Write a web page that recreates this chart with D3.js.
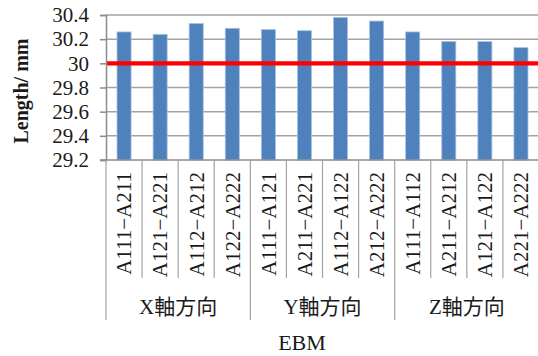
<!DOCTYPE html>
<html>
<head>
<meta charset="utf-8">
<script src="https://cdn.jsdelivr.net/npm/d3@7"></script>
<style>
  body { margin: 0; background: #fff; }
  text { font-family: "Liberation Serif", "Noto Sans CJK JP", serif; fill: #1a1a1a; }
</style>
</head>
<body>
<div id="chart"></div>
<script>
// data
const categories = ["A111−A211", "A121−A221", "A112−A212", "A122−A222",
                    "A111−A121", "A211−A221", "A112−A122", "A212−A222",
                    "A111−A112", "A211−A212", "A121−A122", "A221−A222"];
const groups = ["X軸方向", "Y軸方向", "Z軸方向"];
const groupSize = 4;
const values = [30.26, 30.24, 30.33, 30.29, 30.28, 30.27, 30.38, 30.35, 30.26, 30.18, 30.18, 30.13];
const yTicks = [29.2, 29.4, 29.6, 29.8, 30, 30.2, 30.4];
const refValue = 30;

const W = 538, H = 356;
const plotL = 106, plotR = 539, plotT = 15, plotB = 160;

const svg = d3.select("#chart").append("svg")
    .attr("width", W).attr("height", H);

const x = d3.scaleBand().domain(categories).range([plotL, plotR]);
const xBar = d3.scaleBand().domain(categories).range([plotL, plotR])
    .paddingInner(0.61).paddingOuter(0.305);
const y = d3.scaleLinear().domain([29.2, 30.4]).range([plotB, plotT]);

// gridlines
svg.append("g").selectAll("line").data(yTicks.slice(1)).enter().append("line")
    .attr("x1", plotL).attr("x2", W)
    .attr("y1", d => y(d)).attr("y2", d => y(d))
    .attr("stroke", "#a3a3a3").attr("stroke-width", 1.5);

// bars
svg.append("g").selectAll("rect").data(values).enter().append("rect")
    .attr("x", (d, i) => xBar(categories[i]))
    .attr("width", xBar.bandwidth())
    .attr("y", d => y(d))
    .attr("height", d => y(29.2) - y(d))
    .attr("fill", "#4f81bd")
    .attr("stroke", "#a9c2e2").attr("stroke-width", 0.8);

// reference line at 30
svg.append("line")
    .attr("x1", plotL).attr("x2", W)
    .attr("y1", y(refValue)).attr("y2", y(refValue))
    .attr("stroke", "#ff0000").attr("stroke-width", 4.3);

// y axis
const yAxis = svg.append("g")
    .attr("transform", `translate(${plotL},0)`)
    .call(d3.axisLeft(y).tickValues(yTicks).tickSize(6).tickPadding(11).tickFormat(d => d));
yAxis.select(".domain").attr("stroke", "#8c8c8c").attr("stroke-width", 1.5);
yAxis.selectAll(".tick line").attr("stroke", "#8c8c8c").attr("stroke-width", 1.5);
yAxis.selectAll(".tick text").style("font-size", "21px")
    .style("font-family", "Liberation Serif, serif").attr("fill", "#1a1a1a");

// x axis baseline
svg.append("line")
    .attr("x1", plotL - 6).attr("x2", W)
    .attr("y1", plotB).attr("y2", plotB)
    .attr("stroke", "#8c8c8c").attr("stroke-width", 1.5);

// category separators
const bounds = categories.map((c, i) => i).concat([categories.length]);
svg.append("g").selectAll("line").data(bounds).enter().append("line")
    .attr("x1", i => plotL + i * x.step()).attr("x2", i => plotL + i * x.step())
    .attr("y1", plotB)
    .attr("y2", i => i % groupSize === 0 ? 320 : 278)
    .attr("stroke", "#a3a3a3").attr("stroke-width", 1.2);

// category labels
svg.append("g").selectAll("text").data(categories).enter().append("text")
    .attr("transform", d => `translate(${x(d) + x.bandwidth() / 2},172) rotate(-90)`)
    .attr("text-anchor", "end")
    .attr("dy", "0.35em")
    .style("font-size", "21px")
    .text(d => d);

// group labels
svg.append("g").selectAll("text").data(groups).enter().append("text")
    .attr("x", (d, i) => plotL + (i * groupSize + groupSize / 2) * x.step())
    .attr("y", 314)
    .attr("text-anchor", "middle")
    .style("font-size", "21px")
    .text(d => d);

// axis titles
svg.append("text")
    .attr("x", 302).attr("y", 350)
    .attr("text-anchor", "middle")
    .style("font-size", "22px")
    .text("EBM");

svg.append("text")
    .attr("transform", "translate(28,91) rotate(-90)")
    .attr("text-anchor", "middle")
    .style("font-size", "20px").style("font-weight", "bold")
    .text("Length/ mm");
</script>
</body>
</html>
